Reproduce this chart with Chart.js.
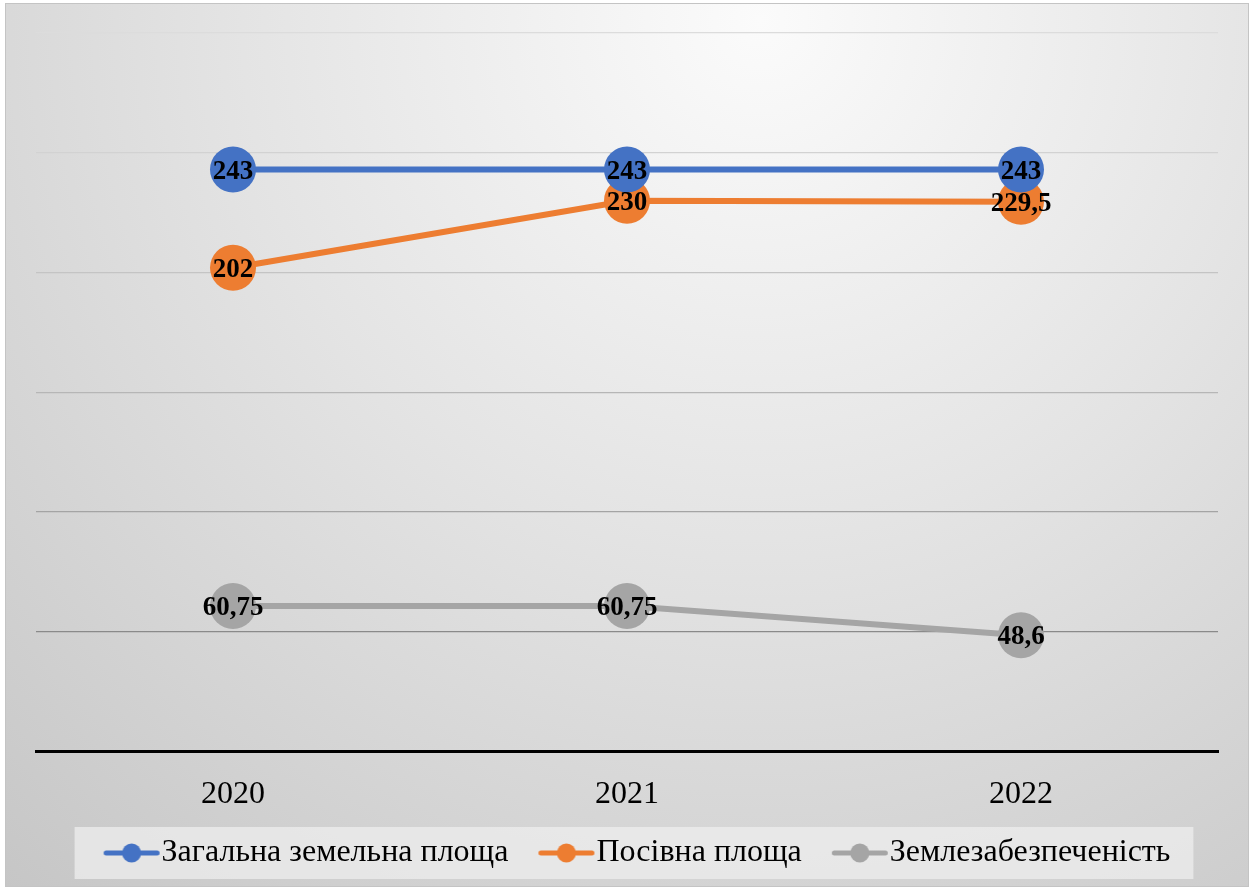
<!DOCTYPE html>
<html>
<head>
<meta charset="utf-8">
<script src="https://cdn.jsdelivr.net/npm/chart.js@4"></script>
<style>
  html, body { margin: 0; padding: 0; background: #fff; }
  #wrap { width: 1258px; height: 891px; }
</style>
</head>
<body>
<div id="wrap"><canvas id="myChart" width="1258" height="891"></canvas></div>
<script>
const years = ['2020', '2021', '2022'];
const totalArea = [243, 243, 243];
const sownArea = [202, 230, 229.5];
const landSupply = [60.75, 60.75, 48.6];
const seriesNames = ['Загальна земельна площа', 'Посівна площа', 'Землезабезпеченість'];
const seriesColors = ['#4472C4', '#ED7D31', '#A5A5A5'];

// legend marker: short line with a dot, drawn in the right part of a wider image
const MARK_W = 120, MARK_OFF = 49;
function makeMarker(color) {
    const c = document.createElement('canvas');
    c.width = MARK_W;
    c.height = 20;
    const g = c.getContext('2d');
    g.strokeStyle = color;
    g.lineWidth = 5;
    g.lineCap = 'round';
    g.beginPath();
    g.moveTo(MARK_OFF + 2.5, 10);
    g.lineTo(MARK_OFF + 53.5, 10);
    g.stroke();
    g.fillStyle = color;
    g.beginPath();
    g.arc(MARK_OFF + 28, 10, 9.5, 0, Math.PI * 2);
    g.fill();
    return c;
}
const markers = seriesColors.map(makeMarker);

const background = {
    id: 'background',
    beforeDraw(chart) {
        const g = chart.ctx;
        g.save();
        g.fillStyle = '#fff';
        g.fillRect(0, 0, chart.width, chart.height);
        const grad = g.createRadialGradient(760, 20, 0, 760, 20, 1150);
        grad.addColorStop(0, '#fbfbfb');
        grad.addColorStop(0.45, '#e4e4e4');
        grad.addColorStop(1, '#c6c6c6');
        g.fillStyle = grad;
        g.fillRect(5.5, 3.5, 1243, 883);
        g.strokeStyle = '#c4c4c4';
        g.lineWidth = 1;
        g.strokeRect(5.5, 3.5, 1243, 883);
        // legend panel
        const boxes = chart.legend.legendHitBoxes;
        if (boxes && boxes.length) {
            const first = boxes[0], last = boxes[boxes.length - 1];
            const l = first.left + 20 - 29;
            const r = last.left + last.width + 23;
            const cy = first.top + 16;
            g.fillStyle = 'rgba(238,238,238,0.75)';
            g.fillRect(l, cy - 26, r - l, 52);
        }
        g.restore();
    }
};

const valueLabels = {
    id: 'valueLabels',
    afterDatasetsDraw(chart) {
        const g = chart.ctx;
        g.save();
        g.font = 'bold 27px "Liberation Serif"';
        g.fillStyle = '#000';
        g.textAlign = 'center';
        g.textBaseline = 'middle';
        chart.data.datasets.forEach((ds, i) => {
            chart.getDatasetMeta(i).data.forEach((pt, j) => {
                const txt = String(ds.data[j]).replace('.', ',');
                g.fillText(txt, pt.x, pt.y + 2);
            });
        });
        g.restore();
    }
};

Chart.defaults.font.family = '"Liberation Serif"';
Chart.defaults.color = '#000';

const gridColors = { 300: '#dcdcdc', 250: '#d2d2d2', 200: '#c4c4c4', 150: '#b6b6b6', 100: '#a4a4a4', 50: '#8a8a8a', 0: 'rgba(0,0,0,0)' };

const ctx = document.getElementById('myChart');
new Chart(ctx, {
    type: 'line',
    data: {
        labels: years,
        datasets: [totalArea, sownArea, landSupply].map((d, i) => ({
            label: seriesNames[i],
            data: d,
            borderColor: seriesColors[i],
            backgroundColor: seriesColors[i],
            borderWidth: 6,
            pointRadius: 23,
            pointHoverRadius: 23,
            pointBorderWidth: 0,
            pointBackgroundColor: seriesColors[i],
            tension: 0,
            fill: false
        }))
    },
    options: {
        responsive: false,
        animation: false,
        events: [],
        layout: { padding: { left: 36, right: 40, top: 33, bottom: 12 } },
        scales: {
            x: {
                offset: true,
                grid: { display: false, drawTicks: false },
                border: { display: true, color: '#000', width: 3 },
                ticks: { font: { size: 32 }, color: '#000', padding: 24 },
                afterFit: s => { s.height -= 11; }
            },
            y: {
                min: 0,
                max: 300,
                grid: { drawTicks: false, lineWidth: 1.3, color: c => gridColors[c.tick.value] || '#bbb' },
                border: { display: false },
                ticks: { display: false, stepSize: 50 }
            }
        },
        plugins: {
            legend: {
                position: 'bottom',
                labels: {
                    usePointStyle: true,
                    pointStyleWidth: 62,
                    padding: 10,
                    font: { size: 32 },
                    color: '#000',
                    generateLabels: chart => chart.data.datasets.map((ds, i) => ({
                        text: ds.label,
                        fillStyle: ds.borderColor,
                        strokeStyle: ds.borderColor,
                        lineWidth: 0,
                        pointStyle: markers[i],
                        fontColor: '#000',
                        hidden: false,
                        datasetIndex: i
                    }))
                }
            },
            tooltip: { enabled: false }
        }
    },
    plugins: [background, valueLabels]
});
</script>
</body>
</html>
